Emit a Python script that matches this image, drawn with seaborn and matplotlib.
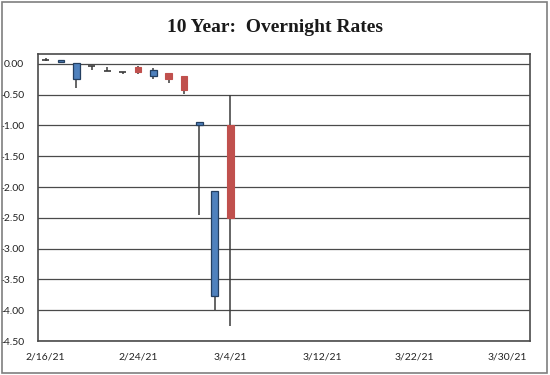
import matplotlib
matplotlib.use("Agg")
import matplotlib.pyplot as plt
import seaborn as sns
import numpy as np
import pandas as pd
from matplotlib.ticker import FormatStrFormatter, FixedLocator, FixedFormatter
from matplotlib.patches import Rectangle

# trading days shown on the category axis
dates = ["2/16/21", "2/17/21", "2/18/21", "2/19/21", "2/22/21", "2/23/21", "2/24/21",
         "2/25/21", "2/26/21", "3/1/21", "3/2/21", "3/3/21", "3/4/21", "3/5/21",
         "3/8/21", "3/9/21", "3/10/21", "3/11/21", "3/12/21", "3/15/21", "3/16/21",
         "3/17/21", "3/18/21", "3/19/21", "3/22/21", "3/23/21", "3/24/21", "3/25/21",
         "3/26/21", "3/29/21", "3/30/21", "3/31/21"]
label_dates = ["2/16/21", "2/24/21", "3/4/21", "3/12/21", "3/22/21", "3/30/21"]

open_ = [0.07, 0.03, -0.25, -0.04, -0.12, -0.14, -0.055, -0.19, -0.145, -0.19, -1.00, -3.77, -1.00]
high = [0.095, 0.07, 0.015, -0.04, -0.055, -0.14, -0.04, -0.06, -0.145, -0.19, -0.95, -2.06, -0.50]
low = [0.045, 0.03, -0.39, -0.10, -0.12, -0.165, -0.16, -0.24, -0.31, -0.49, -2.45, -3.99, -4.26]
close = [0.07, 0.07, 0.015, -0.04, -0.12, -0.14, -0.13, -0.10, -0.24, -0.42, -0.95, -2.06, -2.50]

yticks = [0.0, -0.5, -1.0, -1.5, -2.0, -2.5, -3.0, -3.5, -4.0, -4.5]

df = pd.DataFrame({"date": dates[:len(open_)], "open": open_, "high": high,
                   "low": low, "close": close})
df["pos"] = [dates.index(d) for d in df["date"]]

sns.set_theme(style="white")
plt.rcParams["font.family"] = ["Lato", "DejaVu Sans"]
plt.rcParams["axes.unicode_minus"] = False

fig = plt.figure(figsize=(5.5, 3.75), dpi=100)
ax = fig.add_axes([38 / 550, 1 - 341 / 375, (530 - 38) / 550, (341 - 54) / 375])

UP = "#4F81BD"
UP_EDGE = "#243F60"
DOWN = "#C0504D"
WICK = "#3a3a3a"
w = 0.44

for _, r in df.iterrows():
    ax.vlines(r["pos"], r["low"], r["high"], color=WICK, lw=1.1, zorder=2)
    body = r["close"] - r["open"]
    if abs(body) < 0.012:
        ax.hlines(r["open"], r["pos"] - w / 2, r["pos"] + w / 2, color=WICK, lw=1.2, zorder=3)
    elif body > 0:
        ax.bar(r["pos"], body, bottom=r["open"], width=w, color=UP,
               edgecolor=UP_EDGE, linewidth=0.9, zorder=3)
    else:
        ax.bar(r["pos"], body, bottom=r["open"], width=w, color=DOWN,
               edgecolor=DOWN, linewidth=0.8, zorder=3)

ax.set_xlim(-0.5, len(dates) - 0.5)
ax.set_ylim(-4.5, 0.16)
ax.yaxis.set_major_locator(FixedLocator(yticks))
ax.yaxis.set_major_formatter(FormatStrFormatter("%.2f"))
ax.xaxis.set_major_locator(FixedLocator([dates.index(d) for d in label_dates]))
ax.xaxis.set_major_formatter(FixedFormatter(label_dates))
ax.grid(axis="y", color="#4a4a4a", lw=0.9)
ax.grid(axis="x", visible=False)
ax.set_axisbelow(True)
for s in ax.spines.values():
    s.set_visible(True)
    s.set_color("#4a4a4a")
    s.set_linewidth(1.2)
ax.tick_params(axis="both", length=0, labelsize=7.5, colors="#222222")
ax.tick_params(axis="y", pad=10)
ax.tick_params(axis="x", pad=8)

fig.text(0.5, 1 - 28 / 375, "10 Year:  Overnight Rates", ha="center", va="center",
         fontsize=14, fontweight="bold", family=["Liberation Serif", "DejaVu Serif"],
         color="#1a1a1a")

fig.patches.append(Rectangle((2 / 550, 2 / 375), 545 / 550, 371 / 375, transform=fig.transFigure,
                             fill=False, edgecolor="#7f7f7f", lw=1.2))

fig.savefig("out.png", dpi=100)
